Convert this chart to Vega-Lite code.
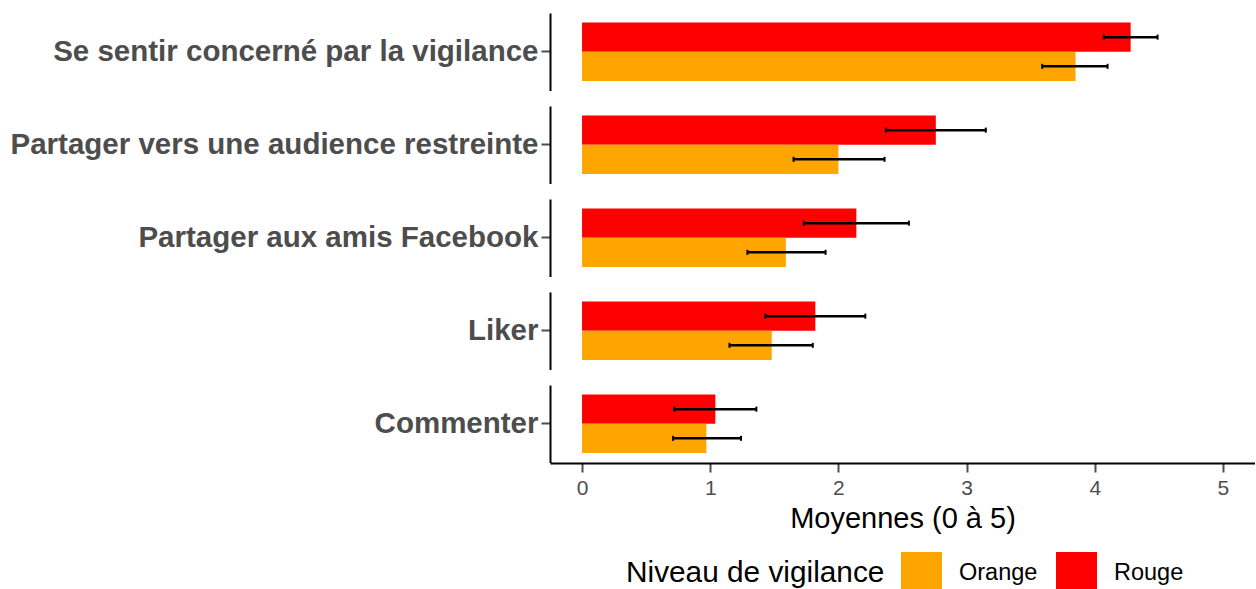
{
  "$schema": "https://vega.github.io/schema/vega-lite/v6.json",
  "padding": {"left": 10, "top": 13, "right": 0, "bottom": 0},
  "background": "white",
  "config": {
    "font": "Liberation Sans",
    "view": {"stroke": null},
    "axis": {"grid": false}
  },
  "data": {
    "values": [
      {"item": "Se sentir concerné par la vigilance", "niveau": "Rouge", "moyenne": 4.28, "lo": 4.07, "hi": 4.49},
      {"item": "Se sentir concerné par la vigilance", "niveau": "Orange", "moyenne": 3.85, "lo": 3.59, "hi": 4.10},
      {"item": "Partager vers une audience restreinte", "niveau": "Rouge", "moyenne": 2.76, "lo": 2.37, "hi": 3.15},
      {"item": "Partager vers une audience restreinte", "niveau": "Orange", "moyenne": 2.00, "lo": 1.65, "hi": 2.36},
      {"item": "Partager aux amis Facebook", "niveau": "Rouge", "moyenne": 2.14, "lo": 1.73, "hi": 2.55},
      {"item": "Partager aux amis Facebook", "niveau": "Orange", "moyenne": 1.59, "lo": 1.29, "hi": 1.90},
      {"item": "Liker", "niveau": "Rouge", "moyenne": 1.82, "lo": 1.43, "hi": 2.21},
      {"item": "Liker", "niveau": "Orange", "moyenne": 1.48, "lo": 1.15, "hi": 1.80},
      {"item": "Commenter", "niveau": "Rouge", "moyenne": 1.04, "lo": 0.72, "hi": 1.36},
      {"item": "Commenter", "niveau": "Orange", "moyenne": 0.97, "lo": 0.71, "hi": 1.24}
    ]
  },
  "facet": {
    "row": {
      "field": "item",
      "type": "nominal",
      "sort": ["Se sentir concerné par la vigilance", "Partager vers une audience restreinte", "Partager aux amis Facebook", "Liker", "Commenter"],
      "header": {"labels": false, "title": null}
    }
  },
  "spacing": 15,
  "spec": {
    "width": 705,
    "height": 77.5,
    "encoding": {
      "y": {
        "field": "item",
        "type": "nominal",
        "title": null,
        "scale": {"paddingInner": 0, "paddingOuter": 0.163},
        "axis": {
          "labelFontSize": 29.5,
          "labelFontWeight": "bold",
          "labelColor": "#4D4D4D",
          "labelPadding": 3,
          "labelLimit": 800,
          "tickSize": 9,
          "tickWidth": 2,
          "tickColor": "#4D4D4D",
          "domainColor": "black",
          "domainWidth": 2
        }
      },
      "yOffset": {
        "field": "niveau",
        "type": "nominal",
        "sort": ["Rouge", "Orange"],
        "scale": {"range": [0, 58.4], "paddingInner": 0, "paddingOuter": 0}
      }
    },
    "layer": [
      {
        "mark": {"type": "bar"},
        "encoding": {
          "x": {
            "field": "moyenne",
            "type": "quantitative",
            "title": "Moyennes (0 à 5)",
            "scale": {"domain": [-0.25, 5.25], "nice": false, "zero": false},
            "axis": {
              "values": [0, 1, 2, 3, 4, 5],
              "format": "d",
              "labelFontSize": 21,
              "labelColor": "#4D4D4D",
              "labelPadding": 5,
              "tickSize": 9,
              "tickWidth": 2,
              "tickColor": "#4D4D4D",
              "domainColor": "black",
              "domainWidth": 2,
              "titleFontSize": 29,
              "titleFontWeight": "normal",
              "titleColor": "black",
              "titlePadding": 6
            }
          },
          "color": {
            "field": "niveau",
            "type": "nominal",
            "title": "Niveau de vigilance",
            "scale": {"domain": ["Orange", "Rouge"], "range": ["#FFA500", "#FF0000"]},
            "legend": {
              "orient": "none",
              "legendX": 76,
              "legendY": 539,
              "direction": "horizontal",
              "titleOrient": "left",
              "titleFontSize": 29.8,
              "titleFontWeight": "normal",
              "titleColor": "black",
              "titleLimit": 600,
              "titlePadding": 16,
              "labelFontSize": 23.5,
              "labelColor": "black",
              "labelOffset": 17,
              "columnPadding": 18,
              "symbolType": "square",
              "symbolSize": 1681,
              "symbolStrokeWidth": 0,
              "symbolOpacity": 1
            }
          }
        }
      },
      {
        "mark": {"type": "rule", "strokeWidth": 2.5, "color": "black"},
        "encoding": {
          "x": {"field": "lo", "type": "quantitative"},
          "x2": {"field": "hi"}
        }
      },
      {
        "mark": {"type": "tick", "size": 5, "thickness": 2, "color": "black", "opacity": 1},
        "encoding": {
          "x": {"field": "lo", "type": "quantitative"}
        }
      },
      {
        "mark": {"type": "tick", "size": 5, "thickness": 2, "color": "black", "opacity": 1},
        "encoding": {
          "x": {"field": "hi", "type": "quantitative"}
        }
      }
    ]
  },
  "resolve": {"scale": {"y": "independent"}}
}
